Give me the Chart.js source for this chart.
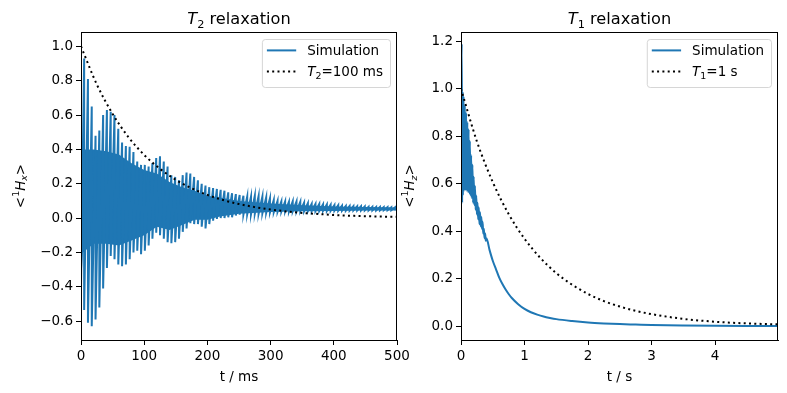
<!DOCTYPE html>
<html>
<head>
<meta charset="utf-8">
<script src="https://cdn.jsdelivr.net/npm/chart.js@4.4.0/dist/chart.umd.min.js"></script>
<style>
  body { margin: 0; background: #fff; width: 787px; height: 393px; overflow: hidden; position: relative; }
  canvas { position: absolute; top: 0; }
  #left { left: 0; }
  #right { left: 395px; }
</style>
</head>
<body>
<canvas id="left" width="420" height="393"></canvas>
<canvas id="right" width="392" height="393"></canvas>
<script>
// T2 panel: spike times (ms) with the top and bottom of each spike
const t2SpikeTime = [0, 5, 11, 17, 23, 29, 35, 41, 47, 53,
  59, 65, 71, 77, 83, 89, 95, 101, 107, 113,
  119, 125, 131, 137, 143, 149, 155, 161, 167, 173,
  179, 185, 191, 197, 203, 209, 215, 221, 227, 233,
  239, 245, 251, 257, 263, 269, 275, 281, 287, 293,
  299, 305, 311, 317, 323, 329, 335, 341, 347, 353,
  359, 365, 371, 377, 383, 389, 395, 401, 407, 413,
  419, 425, 431, 437, 443, 449, 455, 461, 467, 473,
  479, 485, 491, 497];
const t2SpikeTop = [0.40, 0.93, 0.81, 0.65, 0.48, 0.51, 0.60, 0.63, 0.62, 0.60,
  0.52, 0.44, 0.42, 0.415, 0.385, 0.33, 0.31, 0.31, 0.30, 0.32,
  0.35, 0.36, 0.33, 0.30, 0.25, 0.24, 0.22, 0.25, 0.265, 0.26,
  0.24, 0.22, 0.20, 0.19, 0.18, 0.175, 0.17, 0.165, 0.16, 0.15,
  0.145, 0.14, 0.135, 0.13, 0.125, 0.125, 0.13, 0.128, 0.125, 0.12,
  0.115, 0.105, 0.10, 0.097, 0.097, 0.095, 0.098, 0.097, 0.095, 0.09,
  0.087, 0.083, 0.082, 0.082, 0.08, 0.08, 0.078, 0.076, 0.075, 0.072,
  0.07, 0.07, 0.069, 0.068, 0.068, 0.067, 0.066, 0.066, 0.065, 0.065,
  0.064, 0.064, 0.063, 0.063];
const t2SpikeBottom = [-0.41, -0.535, -0.61, -0.63, -0.59, -0.52, -0.41, -0.29, -0.22, -0.24,
  -0.27, -0.28, -0.27, -0.24, -0.20, -0.19, -0.21, -0.19, -0.16, -0.12,
  -0.085, -0.10, -0.12, -0.14, -0.146, -0.14, -0.12, -0.08, -0.06, -0.03,
  -0.035, -0.035, -0.05, -0.06, -0.035, -0.015, -0.005, 0.0, 0.0, 0.005,
  0.005, 0.015, 0.02, 0.02, 0.022, 0.022, 0.025, 0.025, 0.028, 0.03,
  0.032, 0.034, 0.036, 0.037, 0.038, 0.038, 0.039, 0.039, 0.04, 0.04,
  0.04, 0.041, 0.041, 0.041, 0.042, 0.042, 0.042, 0.043, 0.043, 0.043,
  0.043, 0.044, 0.044, 0.044, 0.044, 0.045, 0.045, 0.045, 0.045, 0.045,
  0.046, 0.046, 0.046, 0.046];
// dense oscillation between the spikes
const t2BandTime = [0, 3, 20, 40, 60, 80, 100, 120, 140, 160, 180, 200, 220, 250, 300, 350, 400, 450, 500];
const t2BandHigh = [0.40, 0.40, 0.40, 0.39, 0.37, 0.32, 0.28, 0.26, 0.21, 0.18, 0.16, 0.13, 0.12, 0.10, 0.085, 0.075, 0.068, 0.065, 0.062];
const t2BandLow = [-0.40, -0.20, -0.15, -0.15, -0.16, -0.13, -0.10, -0.05, -0.07, -0.04, -0.01, -0.01, 0.01, 0.025, 0.035, 0.04, 0.042, 0.044, 0.045];
// T2 = 100 ms reference curve
const t2RefTime = [0, 25, 50, 75, 100, 125, 150, 175, 200, 225, 250, 275, 300, 325, 350, 375, 400, 425, 450, 475, 500];
const t2RefValue = [1.0, 0.779, 0.607, 0.472, 0.368, 0.287, 0.223, 0.174, 0.135, 0.105, 0.082, 0.064, 0.050, 0.039, 0.030, 0.024, 0.018, 0.014, 0.011, 0.009, 0.007];
const t2XTicks = [0, 100, 200, 300, 400, 500];
const t2YTicks = [-0.6, -0.4, -0.2, 0.0, 0.2, 0.4, 0.6, 0.8, 1.0];

// T1 panel (s)
const t1SimTime = [0, 0.012, 0.018, 0.025, 0.03, 0.04, 0.05, 0.06, 0.07, 0.08, 0.09, 0.10,
  0.11, 0.12, 0.13, 0.14, 0.15, 0.16, 0.17, 0.18, 0.19, 0.20,
  0.21, 0.22, 0.23, 0.24, 0.25, 0.26, 0.27, 0.28, 0.29, 0.30,
  0.31, 0.32, 0.33, 0.34, 0.35, 0.36, 0.37, 0.38, 0.39, 0.40,
  0.45, 0.5, 0.55, 0.6, 0.65, 0.7, 0.75, 0.8, 0.9,
  1.0, 1.1, 1.2, 1.3, 1.4, 1.5, 1.75, 2.0, 2.25, 2.5, 2.75, 3.0, 3.5, 4.0, 4.5, 4.99];
const t1SimValue = [1.00, 1.19, 0.52, 0.99, 0.55, 0.97, 0.57, 0.93, 0.575, 0.90, 0.57, 0.86,
  0.565, 0.83, 0.56, 0.78, 0.55, 0.72, 0.54, 0.68, 0.52, 0.63,
  0.51, 0.59, 0.49, 0.55, 0.47, 0.52, 0.45, 0.50, 0.43, 0.48,
  0.42, 0.46, 0.41, 0.44, 0.39, 0.41, 0.37, 0.39, 0.36, 0.37,
  0.32, 0.275, 0.24, 0.205, 0.178, 0.155, 0.135, 0.118, 0.092,
  0.072, 0.058, 0.048, 0.04, 0.034, 0.029, 0.021, 0.015, 0.011, 0.008, 0.006, 0.004, 0.002, 0.001, 0.0005, 0.0003];
const t1RefTime = [0, 0.25, 0.5, 0.75, 1, 1.25, 1.5, 1.75, 2, 2.25, 2.5, 2.75, 3, 3.5, 4, 4.5, 4.99];
const t1RefValue = [1.0, 0.779, 0.607, 0.472, 0.368, 0.287, 0.223, 0.174, 0.135, 0.105, 0.082, 0.064, 0.050, 0.030, 0.018, 0.011, 0.007];
const t1XTicks = [0, 1, 2, 3, 4];
const t1YTicks = [0.0, 0.2, 0.4, 0.6, 0.8, 1.0, 1.2];

const BLUE = '#1f77b4';
const FONT = '"DejaVu Sans", sans-serif';
const LW = 2;            // 1.5 pt
const DOTS = [2, 3.3];   // matplotlib ':' at 1.5 pt

// draw text made of parts: '' plain, 'i' italic, 'sub' / 'sup', 'isub' italic subscript
function rich(ctx, parts, size, draw, x, y) {
  let w = 0;
  for (const [txt, st] of parts) {
    const small = st.includes('sub') || st.includes('sup');
    const fs = small ? size * 0.7 : size;
    ctx.font = (st.startsWith('i') ? 'italic ' : '') + fs + 'px ' + FONT;
    const dy = st.includes('sub') ? size * 0.22 : (st.includes('sup') ? -size * 0.42 : 0);
    if (draw) ctx.fillText(txt, x + w, y + dy);
    w += ctx.measureText(txt).width;
  }
  return w;
}

const decor = {
  id: 'decor',
  afterDraw(chart, args, o) {
    const { ctx, chartArea: a } = chart;
    ctx.save();
    ctx.strokeStyle = '#000';
    ctx.lineWidth = 1;
    ctx.strokeRect(Math.round(a.left) + 0.5, Math.round(a.top) + 0.5,
      Math.round(a.right - a.left) - 1, Math.round(a.bottom - a.top));
    ctx.fillStyle = '#000';
    ctx.textBaseline = 'alphabetic';
    const cx = (a.left + a.right) / 2;

    let w = rich(ctx, o.title, 16.2, false);
    rich(ctx, o.title, 16.2, true, cx - w / 2, 24);

    w = rich(ctx, o.xLabel, 13.5, false);
    rich(ctx, o.xLabel, 13.5, true, cx - w / 2, 381);

    ctx.save();
    ctx.translate(o.yLabelX, (a.top + a.bottom) / 2);
    ctx.rotate(-Math.PI / 2);
    w = rich(ctx, o.yLabel, 13.5, false);
    rich(ctx, o.yLabel, 13.5, true, -w / 2, 0);
    ctx.restore();

    // legend, upper right
    const textW = Math.max(...o.legend.map(e => rich(ctx, e.label, 13.5, false)));
    const boxW = 45.3 + textW + 7;
    const right = a.right - 7, top = a.top + 7, left = right - boxW;
    ctx.beginPath();
    ctx.roundRect(left + 0.5, top + 0.5, boxW, 48, 3);
    ctx.fillStyle = 'rgba(255,255,255,0.8)';
    ctx.fill();
    ctx.strokeStyle = 'rgba(204,204,204,0.8)';
    ctx.stroke();
    o.legend.forEach((e, i) => {
      const yc = top + 11.4 + i * 21;
      ctx.beginPath();
      ctx.strokeStyle = e.color;
      ctx.lineWidth = LW;
      ctx.setLineDash(e.dash || []);
      ctx.moveTo(left + 5, yc);
      ctx.lineTo(left + 34.3, yc);
      ctx.stroke();
      ctx.setLineDash([]);
      ctx.fillStyle = '#000';
      rich(ctx, e.label, 13.5, true, left + 45.3, yc + 5);
    });
    ctx.restore();
  }
};

const pts = (xs, ys) => xs.map((x, i) => ({ x: x, y: ys[i] }));
const fmt1 = v => (v < 0 ? '\u2212' : '') + Math.abs(v).toFixed(1);

function axis(min, max, ticks, fit, fmt, horizontal) {
  return {
    type: 'linear', min: min, max: max,
    afterBuildTicks: s => { s.ticks = ticks.map(v => ({ value: v })); },
    afterFit: s => { if (horizontal) s.height = fit; else s.width = fit; },
    grid: { drawOnChartArea: false, drawTicks: true, tickLength: 5, color: '#000', lineWidth: 1 },
    border: { display: true, color: '#000', width: 1 },
    ticks: { color: '#000', font: { family: FONT, size: 13.5 }, padding: 3, maxRotation: 0, autoSkip: false, callback: fmt }
  };
}

// left: T2 relaxation
const zigzag2 = [];
t2SpikeTime.forEach((t, i) => {
  zigzag2.push({ x: t, y: t2SpikeTop[i] });
  zigzag2.push({ x: t, y: t2SpikeBottom[i] });
});

new Chart(document.getElementById('left'), {
  type: 'line',
  data: {
    datasets: [
      { data: pts(t2RefTime, t2RefValue), borderColor: '#000', borderWidth: LW, borderDash: DOTS,
        pointRadius: 0, cubicInterpolationMode: 'monotone', fill: false },
      { data: zigzag2, borderColor: BLUE, borderWidth: LW, pointRadius: 0, tension: 0, fill: false },
      { data: pts(t2BandTime, t2BandLow), borderWidth: 0, borderColor: BLUE, pointRadius: 0, fill: false },
      { data: pts(t2BandTime, t2BandHigh), borderWidth: 0, borderColor: BLUE, pointRadius: 0,
        backgroundColor: BLUE, fill: '-1' }
    ]
  },
  options: {
    responsive: false, animation: false, devicePixelRatio: 1,
    layout: { padding: { left: 0, top: 32, right: 23, bottom: 0 } },
    scales: {
      x: axis(0, 500, t2XTicks, 53, v => String(v), true),
      y: axis(-0.71, 1.084, t2YTicks, 81, fmt1, false)
    },
    plugins: {
      legend: { display: false },
      tooltip: { enabled: false },
      decor: {
        title: [['T', 'i'], ['2', 'sub'], [' relaxation', '']],
        xLabel: [['t / ms', '']],
        yLabel: [['<', ''], ['1', 'sup'], ['H', 'i'], ['x', 'isub'], ['>', '']],
        yLabelX: 24.5,
        legend: [
          { label: [['Simulation', '']], color: BLUE },
          { label: [['T', 'i'], ['2', 'sub'], ['=100 ms', '']], color: '#000', dash: DOTS }
        ]
      }
    }
  },
  plugins: [decor]
});

// right: T1 relaxation
new Chart(document.getElementById('right'), {
  type: 'line',
  data: {
    datasets: [
      { data: pts(t1RefTime, t1RefValue), borderColor: '#000', borderWidth: LW, borderDash: DOTS,
        pointRadius: 0, cubicInterpolationMode: 'monotone', fill: false },
      { data: pts(t1SimTime, t1SimValue), borderColor: BLUE, borderWidth: LW, pointRadius: 0,
        cubicInterpolationMode: 'monotone', fill: false }
    ]
  },
  options: {
    responsive: false, animation: false, devicePixelRatio: 1,
    layout: { padding: { left: 0, top: 32, right: 9, bottom: 0 } },
    scales: {
      x: axis(0, 4.99, t1XTicks, 53, v => String(v), true),
      y: axis(-0.059, 1.24, t1YTicks, 66, fmt1, false)
    },
    plugins: {
      legend: { display: false },
      tooltip: { enabled: false },
      decor: {
        title: [['T', 'i'], ['1', 'sub'], [' relaxation', '']],
        xLabel: [['t / s', '']],
        yLabel: [['<', ''], ['1', 'sup'], ['H', 'i'], ['z', 'isub'], ['>', '']],
        yLabelX: 19,
        legend: [
          { label: [['Simulation', '']], color: BLUE },
          { label: [['T', 'i'], ['1', 'sub'], ['=1 s', '']], color: '#000', dash: DOTS }
        ]
      }
    }
  },
  plugins: [decor]
});
</script>
</body>
</html>
